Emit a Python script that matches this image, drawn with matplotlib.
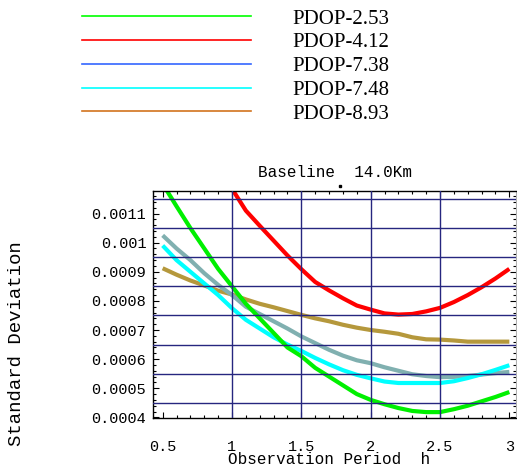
import matplotlib
matplotlib.use("Agg")
import matplotlib.pyplot as plt
from matplotlib.lines import Line2D
from matplotlib.ticker import MultipleLocator, FixedLocator

# ---------------- data ----------------
x_common = [0.5, 0.6, 0.7, 0.8, 0.9, 1.0, 1.1, 1.2, 1.3, 1.4, 1.5, 1.6, 1.7,
            1.8, 1.9, 2.0, 2.1, 2.2, 2.3, 2.4, 2.5, 2.6, 2.7, 2.8, 2.9, 3.0]

green_vals = [0.001202, 0.001125, 0.001050, 0.000980, 0.000910, 0.000850,
              0.000790, 0.000740, 0.000690, 0.000640, 0.000610, 0.000570,
              0.000540, 0.000510, 0.000480, 0.000460, 0.000445, 0.000432,
              0.000422, 0.000418, 0.000418, 0.000428, 0.000440, 0.000455,
              0.000470, 0.000487]

x_red = [1.0, 1.1, 1.2, 1.3, 1.4, 1.5, 1.6, 1.7, 1.8, 1.9, 2.0, 2.1, 2.2,
         2.3, 2.4, 2.5, 2.6, 2.7, 2.8, 2.9, 3.0]
red_vals = [0.001185, 0.001110, 0.001058, 0.001007, 0.000956, 0.000909,
            0.000865, 0.000836, 0.000809, 0.000784, 0.000770, 0.000757,
            0.000753, 0.000755, 0.000764, 0.000776, 0.000796, 0.000820,
            0.000847, 0.000877, 0.000910]

grey_vals = [0.001025, 0.000980, 0.000940, 0.000895, 0.000855, 0.000820,
             0.000780, 0.000755, 0.000730, 0.000705, 0.000678, 0.000655,
             0.000632, 0.000612, 0.000596, 0.000586, 0.000572, 0.000560,
             0.000548, 0.000542, 0.000538, 0.000539, 0.000542, 0.000547,
             0.000552, 0.000556]

cyan_vals = [0.000990, 0.000940, 0.000900, 0.000860, 0.000820, 0.000775,
             0.000735, 0.000705, 0.000675, 0.000650, 0.000628, 0.000604,
             0.000582, 0.000562, 0.000546, 0.000534, 0.000523, 0.000518,
             0.000518, 0.000518, 0.000518, 0.000524, 0.000535, 0.000548,
             0.000563, 0.000579]

gold_vals = [0.000912, 0.000890, 0.000870, 0.000853, 0.000835, 0.000822,
             0.000805, 0.000790, 0.000778, 0.000765, 0.000752, 0.000740,
             0.000730, 0.000718, 0.000708, 0.000700, 0.000694, 0.000687,
             0.000675, 0.000668, 0.000667, 0.000664, 0.000660, 0.000660,
             0.000660, 0.000660]

legend_labels = ["PDOP-2.53", "PDOP-4.12", "PDOP-7.38", "PDOP-7.48", "PDOP-8.93"]
legend_colors = ["#00ff00", "#ff0000", "#3366ff", "#00ffff", "#d2731e"]

x_tick_vals = [0.5, 1.0, 1.5, 2.0, 2.5, 3.0]
x_tick_labels = ["0.5", "1", "1.5", "2", "2.5", "3"]
y_tick_vals = [0.0004, 0.0005, 0.0006, 0.0007, 0.0008, 0.0009, 0.0010, 0.0011]
y_tick_labels = ["0.0004", "0.0005", "0.0006", "0.0007", "0.0008",
                 "0.0009", "0.001", "0.0011"]
v_grid = [1.0, 1.5, 2.0, 2.5]
h_grid = [0.00045, 0.00055, 0.00065, 0.00075, 0.00085, 0.00095, 0.00105, 0.00115]

# ---------------- figure ----------------
W, H = 517, 470
fig = plt.figure(figsize=(W / 100, H / 100), dpi=100)
mono = "Liberation Mono"
serif = "Liberation Serif"

bottom_px, top_px = 417.5, 191
ax = fig.add_axes([153.3 / W, 1 - bottom_px / H, (516 - 153.3) / W,
                   (bottom_px - top_px) / H])
ax.set_xlim(0.4325, 3.048)
ax.set_ylim(0.0003995, 0.0011774)

lw = 3.0
ax.plot(x_common, gold_vals, color="#b5983c", lw=lw, zorder=2, solid_capstyle="butt")
ax.plot(x_common, grey_vals, color="#80b0b0", lw=lw, zorder=2, solid_capstyle="butt")
ax.plot(x_common, cyan_vals, color="#00ffff", lw=lw, zorder=2, solid_capstyle="butt")
ax.plot(x_common, green_vals, color="#00f000", lw=lw, zorder=2, solid_capstyle="butt")
ax.plot(x_red, red_vals, color="#ff0000", lw=lw, zorder=2, solid_capstyle="butt")

gridcol = "#26267f"
for gx in v_grid:
    ax.axvline(gx, color=gridcol, lw=1.0, zorder=3)
for gy in h_grid:
    ax.axhline(gy, color=gridcol, lw=1.0, zorder=3)

ax.xaxis.set_major_locator(FixedLocator(x_tick_vals))
ax.set_xticklabels(x_tick_labels, fontfamily=mono, fontsize=11)
ax.xaxis.set_minor_locator(MultipleLocator(0.1))
ax.yaxis.set_major_locator(FixedLocator(y_tick_vals))
ax.set_yticklabels(y_tick_labels, fontfamily=mono, fontsize=11)
ax.yaxis.set_minor_locator(MultipleLocator(0.00002))

ax.tick_params(axis="both", which="both", direction="in", top=True, right=True,
               color="black", width=0.8)
ax.tick_params(axis="both", which="major", length=4)
ax.tick_params(axis="both", which="minor", length=2.5)
ax.tick_params(axis="x", which="major", pad=16)
ax.tick_params(axis="y", which="major", pad=5)

for s in ["left", "bottom", "top"]:
    ax.spines[s].set_color("black")
    ax.spines[s].set_linewidth(1.0)
ax.spines["right"].set_color("#b0b0b0")

# titles / labels
fig.text(335 / W, 1 - 173 / H, "Baseline  14.0Km", fontfamily=mono, fontsize=11.5,
         ha="center", va="center")
fig.add_artist(Line2D([339.5 / W], [1 - 186 / H], marker="s", markersize=1.6,
                      color="black", linestyle="none", transform=fig.transFigure))
fig.text(329.5 / W, 1 - 460 / H, "Observation Period  h", fontfamily=mono,
         fontsize=11.5, ha="center", va="center")
fig.text(17 / W, 1 - 343.5 / H, "Standard Deviation", fontfamily=mono,
         fontsize=13.7, ha="center", va="center", rotation=90)

# legend
handles = [Line2D([], [], color=c, lw=1.2) for c in legend_colors]
fig.legend(handles, legend_labels, loc="upper left",
           bbox_to_anchor=(82 / W, 1 - 9 / H), frameon=False,
           prop={"family": serif, "size": 15}, handlelength=8.1,
           handletextpad=2.0, labelspacing=0.2, borderpad=0, borderaxespad=0)

fig.savefig("out.png", dpi=100)
